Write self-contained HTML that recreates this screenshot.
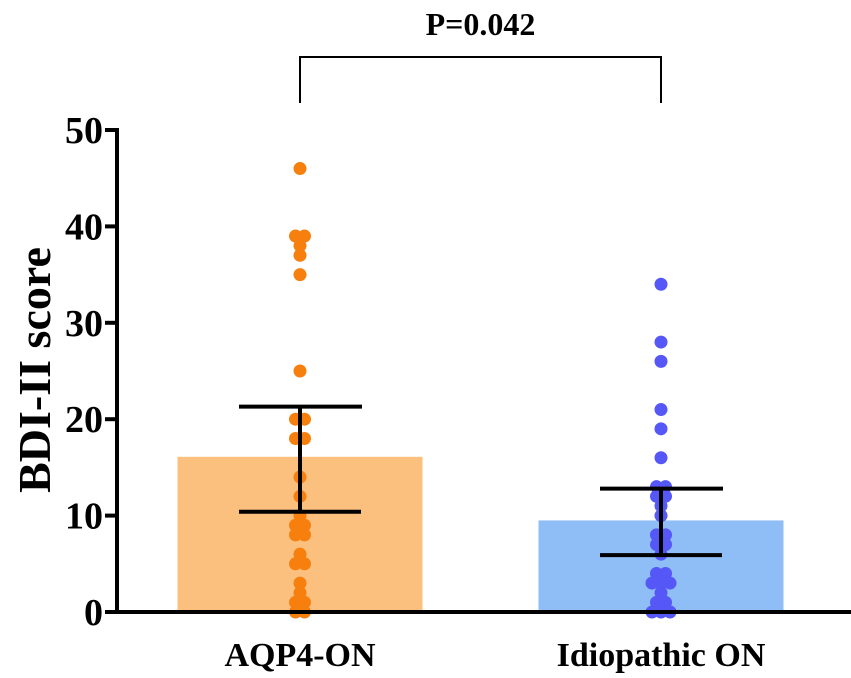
<!DOCTYPE html>
<html><head><meta charset="utf-8"><style>
html,body{margin:0;padding:0;background:#fff;}
svg{display:block;font-family:"Liberation Serif",serif;font-weight:bold;}
</style></head><body>
<svg id="chart" width="851" height="678" viewBox="0 0 851 678"></svg>
<script>
const categories = ["AQP4-ON","Idiopathic ON"];
const barMeans = [16.1, 9.5];
const errUpper = [21.3, 12.8];
const errLower = [10.4, 5.9];
const aqp4Values = [46,39,39,38,37,35,25,20,20,18,18,14,12,10,9,9,8,8,6,5,5,3,2,1,1,0,0];
const idioValues = [34,28,26,21,19,16,13,13,12,12,11,10,8,8,7,7,6,4,4,3,3,3,2,1,1,0,0,0];
const yTicks = [0,10,20,30,40,50];
const pLabel = "P=0.042";

const NS="http://www.w3.org/2000/svg";
const svg=document.getElementById('chart');
const y0=612, y50=130, axisX=117;
function yScale(v){return y0-(y0-y50)*v/50;}
const centers=[300,661];
function xScale(i){return centers[i];}
const barW=245;
const fills=["#fbbf7e","#8fbdf5"];
const dots=["#f77f0e","#5657f7"];
function mk(tag,attrs){const e=document.createElementNS(NS,tag);for(const k in attrs)e.setAttribute(k,attrs[k]);svg.appendChild(e);return e;}

barMeans.forEach((m,i)=>{
  const r=mk('rect',{x:xScale(i)-barW/2,y:yScale(m),width:barW,height:yScale(0)-yScale(m),fill:fills[i]});
  
  
});
[aqp4Values,idioValues].forEach((vals,i)=>{
  const counts={};vals.forEach(v=>counts[v]=(counts[v]||0)+1);
  const seen={};
  vals.forEach(v=>{
    const n=counts[v];const k=(seen[v]=(seen[v]||0)+1)-1;
    const off=(k-(n-1)/2)*9;
    const c=mk('circle',{cx:xScale(i)+off,cy:yScale(v),r:6.5,fill:dots[i]});
    
    
  });
});
categories.forEach((c,i)=>{
  const x=xScale(i);
  const g=[[x,yScale(errUpper[i]),x,yScale(errLower[i])],[x-61,yScale(errUpper[i]),x+62,yScale(errUpper[i])],[x-61,yScale(errLower[i]),x+61,yScale(errLower[i])]];
  g.forEach(l=>{
    const e=mk('line',{x1:l[0],y1:l[1],x2:l[2],y2:l[3],stroke:'#000','stroke-width':4});
    
    
  });
  const t=mk('text',{x:x,y:666,'text-anchor':'middle','font-size':34});
  t.textContent=c;
  
  
});
const ya=mk('line',{x1:axisX,y1:y50-2,x2:axisX,y2:y0+2,stroke:'#000','stroke-width':4});


const xa=mk('line',{x1:axisX-2,y1:y0,x2:851,y2:y0,stroke:'#000','stroke-width':4});


yTicks.forEach(v=>{
  const l=mk('line',{x1:axisX-12,y1:yScale(v),x2:axisX,y2:yScale(v),stroke:'#000','stroke-width':4});
  
  
  const t=mk('text',{x:axisX-14,y:yScale(v)+13,'text-anchor':'end','font-size':38});
  t.textContent=v;
  
  
});
const yt=mk('text',{x:0,y:0,'text-anchor':'middle','font-size':46,transform:'translate(50,370) rotate(-90)'});
yt.textContent="BDI-II score";


const br=mk('polyline',{points:`${xScale(0)},103 ${xScale(0)},57 ${xScale(1)},57 ${xScale(1)},103`,fill:'none',stroke:'#000','stroke-width':2});


const pt=mk('text',{x:(xScale(0)+xScale(1))/2,y:35,'text-anchor':'middle','font-size':32});
pt.textContent=pLabel;


</script>
</body></html>
